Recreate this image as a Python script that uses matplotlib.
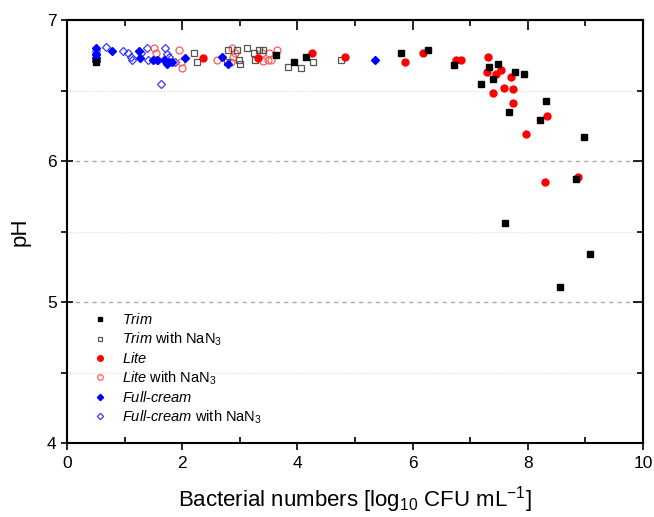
import numpy as np
import matplotlib
matplotlib.use('Agg')
import matplotlib.pyplot as plt
from matplotlib.ticker import MultipleLocator

plt.rcParams['font.family'] = ['Liberation Sans', 'DejaVu Sans']
plt.rcParams['mathtext.fontset'] = 'custom'
plt.rcParams['mathtext.rm'] = 'Liberation Sans'
plt.rcParams['mathtext.it'] = 'Liberation Sans:italic'

# Trim (filled black squares)
trim_x = [0.50, 3.63, 3.94, 4.15, 5.80, 6.27, 6.72, 7.19, 7.33, 7.40, 7.48,
          7.78, 7.93, 8.32, 7.67, 8.21, 8.98, 8.84, 7.60, 9.08, 8.56]
trim_y = [6.70, 6.75, 6.70, 6.74, 6.77, 6.79, 6.68, 6.55, 6.67, 6.58, 6.69,
          6.63, 6.62, 6.43, 6.35, 6.29, 6.17, 5.87, 5.56, 5.34, 5.11]

# Trim with NaN3 (open grey squares)
trim_na_x = [0.50, 2.20, 2.26, 2.80, 2.77, 2.95, 2.99, 3.00, 3.12, 3.25,
             3.33, 3.40, 3.26, 3.84, 4.06, 4.27, 4.76]
trim_na_y = [6.72, 6.77, 6.70, 6.79, 6.70, 6.79, 6.72, 6.69, 6.80, 6.77,
             6.79, 6.79, 6.72, 6.67, 6.66, 6.70, 6.72]

# Lite (filled red circles)
lite_x = [2.36, 3.32, 4.25, 4.83, 5.87, 6.18, 6.75, 6.84, 7.31, 7.29, 7.45,
          7.54, 7.71, 7.40, 7.59, 7.74, 7.74, 7.97, 8.33, 8.30, 8.87]
lite_y = [6.73, 6.73, 6.77, 6.74, 6.70, 6.77, 6.72, 6.72, 6.74, 6.63, 6.62,
          6.65, 6.60, 6.48, 6.52, 6.51, 6.41, 6.19, 6.32, 5.85, 5.89]

# Lite with NaN3 (open red circles)
lite_na_x = [1.51, 1.55, 1.94, 1.98, 2.00, 2.60, 2.86, 2.88, 2.85, 2.92,
             3.39, 3.40, 3.49, 3.54, 3.51, 3.65]
lite_na_y = [6.80, 6.77, 6.79, 6.70, 6.66, 6.72, 6.80, 6.74, 6.70, 6.77,
             6.77, 6.71, 6.72, 6.72, 6.77, 6.79]

# Full-cream (filled blue diamonds)
fc_x = [0.50, 0.50, 0.50, 0.50, 0.78, 1.25, 1.27, 1.49, 1.56, 1.68, 1.74,
        1.77, 1.83, 2.05, 2.69, 2.80, 5.35]
fc_y = [6.80, 6.76, 6.73, 6.71, 6.78, 6.78, 6.73, 6.72, 6.72, 6.72, 6.69,
        6.70, 6.70, 6.73, 6.74, 6.69, 6.72]

# Full-cream with NaN3 (open blue diamonds)
fc_na_x = [0.50, 0.50, 0.50, 0.68, 0.97, 1.06, 1.11, 1.13, 1.28, 1.39, 1.41,
           1.58, 1.70, 1.73, 1.77, 1.88, 1.63]
fc_na_y = [6.78, 6.75, 6.73, 6.81, 6.78, 6.77, 6.74, 6.72, 6.77, 6.80, 6.72,
           6.72, 6.80, 6.76, 6.74, 6.70, 6.55]

fig = plt.figure(figsize=(6.54, 5.17), dpi=100)
ax = fig.add_axes([0.1024, 0.143, 0.8808, 0.818])

ax.plot(fc_na_x, fc_na_y, 'D', ms=4, mfc='none', mec='#3a3aff', mew=0.9,
        label=r'$\mathit{Full\text{-}cream}$ with NaN$_3$')
ax.plot(lite_na_x, lite_na_y, 'o', ms=5, mfc='none', mec='#ff5a5a', mew=0.9,
        label=r'$\mathit{Lite}$ with NaN$_3$')
ax.plot(trim_na_x, trim_na_y, 's', ms=4.3, mfc='none', mec='#555555', mew=0.9,
        label=r'$\mathit{Trim}$ with NaN$_3$')
ax.plot(fc_x, fc_y, 'D', ms=4, color='#0000ff', mec='#0000ff',
        label=r'$\mathit{Full\text{-}cream}$')
ax.plot(lite_x, lite_y, 'o', ms=5, color='#ff0000', mec='#ff0000',
        label=r'$\mathit{Lite}$')
ax.plot(trim_x, trim_y, 's', ms=4.3, color='#000000',
        label=r'$\mathit{Trim}$')

ax.set_xlim(0, 10)
ax.set_ylim(4, 7)

# grid lines
for yv in [5, 6]:
    ax.axhline(yv, color='#aaaaaa', ls=(0, (3, 3)), lw=1, zorder=0)
for yv in [4.5, 5.5, 6.5]:
    ax.axhline(yv, color='#dddddd', ls=(0, (1, 1.5)), lw=0.8, zorder=0)

ax.xaxis.set_major_locator(MultipleLocator(2))
ax.xaxis.set_minor_locator(MultipleLocator(1))
ax.yaxis.set_major_locator(MultipleLocator(1))
ax.yaxis.set_minor_locator(MultipleLocator(0.5))
ax.tick_params(axis='x', which='major', direction='out', length=5, width=1.2,
               labelsize=12.5, pad=4)
ax.tick_params(axis='x', which='minor', direction='in', length=4, width=1.2)
ax.tick_params(axis='y', which='major', direction='inout', length=8, width=1.2,
               labelsize=12.5)
ax.tick_params(axis='y', which='minor', direction='out', length=4, width=1.2)

top = ax.secondary_xaxis('top')
top.xaxis.set_major_locator(MultipleLocator(2))
top.xaxis.set_minor_locator(MultipleLocator(1))
top.tick_params(which='major', direction='in', length=7, width=1.2, labeltop=False)
top.tick_params(which='minor', direction='in', length=4, width=1.2)
right = ax.secondary_yaxis('right')
right.yaxis.set_major_locator(MultipleLocator(1))
right.yaxis.set_minor_locator(MultipleLocator(0.5))
right.tick_params(which='major', direction='in', length=7, width=1.2, labelright=False)
right.tick_params(which='minor', direction='in', length=4, width=1.2)
for a in [ax, top, right]:
    for s in a.spines.values():
        s.set_linewidth(1.5)

ax.set_xlabel(r'Bacterial numbers [log$_{10}$ CFU mL$^{-1}$]', fontsize=16, labelpad=10)
ax.set_ylabel('pH', fontsize=16, labelpad=12)

handles, labels = ax.get_legend_handles_labels()
order = [5, 2, 4, 1, 3, 0]
leg = ax.legend([handles[i] for i in order], [labels[i] for i in order],
                loc='lower left', bbox_to_anchor=(0.02, 0.01), frameon=False,
                fontsize=10.5, markerscale=0.8, handlelength=1.2,
                handletextpad=0.9, labelspacing=0.22)

fig.savefig('out.png', dpi=100)
